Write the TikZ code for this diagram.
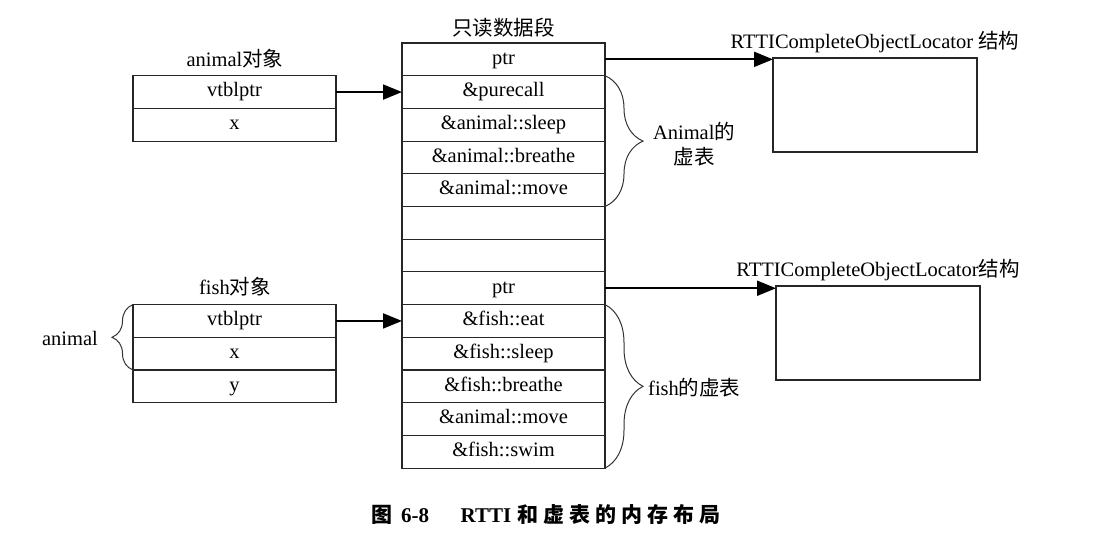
\documentclass[tikz,border=0pt]{standalone}
\usepackage{fontspec}
\setmainfont{Liberation Serif}
\newfontfamily\cjk{Noto Sans CJK SC}
\usetikzlibrary{arrows.meta,decorations.pathreplacing}
\begin{document}
\begin{tikzpicture}[x=1pt,y=-1pt,
  cell/.style={draw=black!85, line width=1.1pt, minimum width=203pt, minimum height=32.7pt,
    inner sep=0pt, outer sep=0pt, text height=14pt, text depth=4.5pt,
    font=\fontsize{20.5}{23}\selectfont},
  box/.style={draw=black!85, line width=1.1pt, inner sep=0pt, outer sep=0pt},
  lbl/.style={inner sep=0pt, font=\fontsize{20.5}{23}\selectfont},
  arr/.style={line width=2pt, -{Triangle[length=19pt,width=15pt]}},
  brc/.style={draw=black!80, line width=1pt, decorate},
  captxt/.style={inner sep=0pt, font=\fontsize{21}{24}\selectfont\bfseries}]
\useasboundingbox (0,0) rectangle (1097,545);
% read-only data segment
\node[lbl] (tro) at (503.5,28) {{\cjk 只读数据段}};
\node[cell] (m0) at (503.5,59.35) {ptr};
\node[cell] (m1) at (503.5,92.05) {\&purecall};
\node[cell] (m2) at (503.5,124.75) {\&animal::sleep};
\node[cell] (m3) at (503.5,157.45) {\&animal::breathe};
\node[cell] (m4) at (503.5,190.15) {\&animal::move};
\node[cell] (m5) at (503.5,222.85) {};
\node[cell] (m6) at (503.5,255.55) {};
\node[cell] (m7) at (503.5,288.25) {ptr};
\node[cell] (m8) at (503.5,320.95) {\&fish::eat};
\node[cell] (m9) at (503.5,353.65) {\&fish::sleep};
\node[cell] (m10) at (503.5,386.35) {\&fish::breathe};
\node[cell] (m11) at (503.5,419.05) {\&animal::move};
\node[cell] (m12) at (503.5,451.75) {\&fish::swim};
% animal object
\node[lbl] (tao) at (235,59) {animal{\cjk 对象}};
\node[cell] (av) at (234.5,92.05) {vtblptr};
\node[cell] (ax) at (234.5,124.75) {x};
% fish object
\node[lbl] (tfo) at (235,287) {fish{\cjk 对象}};
\node[cell] (fv) at (234.5,320.95) {vtblptr};
\node[cell] (fx) at (234.5,353.65) {x};
\node[cell] (fy) at (234.5,386.35) {y};
% RTTI boxes
\node[lbl] (tr1) at (875,42) {RTTICompleteObjectLocator {\cjk 结构}};
\node[box, minimum width=204pt, minimum height=94pt] (r1) at (875,105) {};
\node[lbl] (tr2) at (878,270) {RTTICompleteObjectLocator{\cjk 结构}};
\node[box, minimum width=204pt, minimum height=94pt] (r2) at (878,333) {};
% arrows
\draw[arr] (av.east) -- (m1.west);
\draw[arr] (fv.east) -- (m8.west);
\draw[arr] (m0.east) -- (m0.east -| r1.west);
\draw[arr] (m7.east) -- (m7.east -| r2.west);
% braces
\draw[brc, decoration={brace, amplitude=38pt}] (m1.north east) -- (m4.south east);
\node[lbl, align=center] (lb1) at (694,144) {Animal{\cjk 的}\\[2pt]{\cjk 虚表}};
\draw[brc, decoration={brace, amplitude=38pt}] (m8.north east) -- (m12.south east);
\node[lbl, anchor=west] (lb2) at (648,388) {fish{\cjk 的虚表}};
\draw[brc, decoration={brace, amplitude=21pt}] (fx.south west) -- (fv.north west);
\node[lbl] (lb3) at (70,338) {animal};
% caption
\node[captxt] (c1) at (382,515) {{\cjk 图}};
\node[captxt] (c2) at (415,516) {6-8};
\node[captxt] (c3) at (486,516) {RTTI};
\node[captxt, anchor=west] (c4) at (517,515) {{\cjk 和\hspace{5pt}虚\hspace{5pt}表\hspace{5pt}的\hspace{5pt}内\hspace{5pt}存\hspace{5pt}布\hspace{5pt}局}};
\end{tikzpicture}
\end{document}
